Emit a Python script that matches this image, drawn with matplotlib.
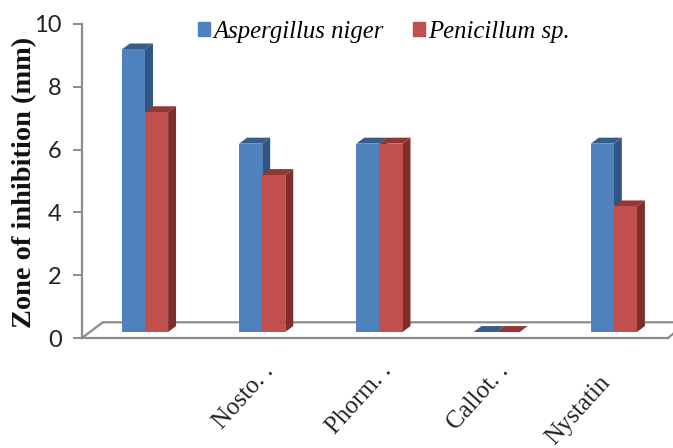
import matplotlib
matplotlib.use('Agg')
import matplotlib.pyplot as plt
from matplotlib.patches import Polygon, Patch
from matplotlib.transforms import ScaledTranslation
import numpy as np

categories = ['', 'Nosto. .', 'Phorm. .', 'Callot. .', 'Nystatin']
aspergillus = [9, 6, 6, 0, 6]
penicillium = [7, 5, 6, 0, 4]
series_names = ['Aspergillus niger', 'Penicillum sp.']

blue, blue_dark, blue_top = '#4f81bd', '#2f5585', '#385d8a'
red, red_dark, red_top = '#c0504d', '#7f2e2c', '#943634'
gray = '#8c8c8c'

fig = plt.figure(figsize=(6.73, 4.48), dpi=100)
ax = fig.add_axes([82/673, 1-338/448, (668-82)/673, (338-24)/448])
ax.set_xlim(-0.5375, 4.462)
ax.set_ylim(0, 10)

# fake 3d: depth of the bars and of the floor, in data units
dx = 0.068
dy = 0.19
width = 0.197
base = 0.19


def bar3d(x, v, col, col_side, col_top):
    ax.bar(x, v, width, bottom=base, color=col, align='edge', zorder=3)
    top = base + v
    ax.add_patch(Polygon([(x+width, base), (x+width+dx, base+dy), (x+width+dx, top+dy), (x+width, top)],
                         fc=col_side, ec='none', zorder=2))
    ax.add_patch(Polygon([(x, top), (x+dx, top+dy), (x+width+dx, top+dy), (x+width, top)],
                         fc=col_top, ec='none', zorder=2))


for i in range(len(categories)):
    bar3d(i-width, aspergillus[i], blue, blue_dark, blue_top)
    bar3d(i, penicillium[i], red, red_dark, red_top)

# floor of the 3d box
ax.plot([-0.5375, -0.36, 4.55], [0, 0.5, 0.5], color=gray, lw=1.6, zorder=1, clip_on=False)
ax.plot([4.462, 4.55], [0, 0.27], color=gray, lw=1.6, zorder=1, clip_on=False)

for s in ['top', 'right']:
    ax.spines[s].set_visible(False)
for s in ['left', 'bottom']:
    ax.spines[s].set_color(gray)
    ax.spines[s].set_linewidth(1.6)

ax.set_yticks(np.arange(0, 11, 2))
ax.tick_params(axis='y', length=6.5, width=1.4, color=gray, pad=8, labelsize=17, labelcolor='#222222')
for t in ax.get_yticklabels():
    t.set_family('Lato')

ax.set_xticks(range(len(categories)))
ax.set_xticklabels(categories, rotation=48, ha='right', rotation_mode='anchor',
                   family='Liberation Serif', fontsize=18, color='#222222')
ax.tick_params(axis='x', length=0, pad=16)
# Nystatin sits further left and lower in the original
last = ax.get_xticklabels()[-1]
last.set_transform(last.get_transform() + ScaledTranslation(-11/72, -8/72, fig.dpi_scale_trans))

ax.set_ylabel('Zone of inhibition (mm)', family='Liberation Serif', fontweight='bold',
              fontsize=20.4, color='#111111')
ax.yaxis.set_label_coords(-0.077, 0.494)

handles = [Patch(color=blue), Patch(color=red)]
ax.legend(handles, series_names, loc='upper left', bbox_to_anchor=(0.177, 1.05), ncol=2, frameon=False,
          prop={'family': 'Liberation Serif', 'style': 'italic', 'size': 17.8},
          handlelength=0.5, handleheight=0.5, handletextpad=0.1, columnspacing=1.2, borderpad=0)

fig.savefig('out.png', dpi=100)
